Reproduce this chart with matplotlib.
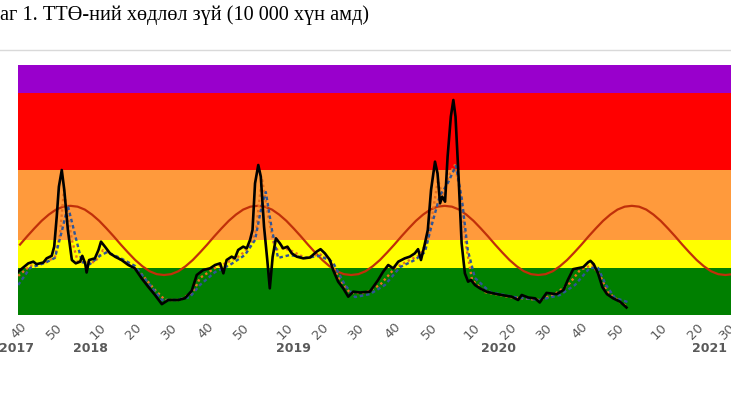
import matplotlib
matplotlib.use("Agg")
import matplotlib.pyplot as plt
from matplotlib.lines import Line2D

# --- data -------------------------------------------------------------
# weeks counted from 2017 week 40 (52 weeks per year)
# threshold bands: (bottom, top, colour)
band_edges = [0, 11.3, 18.0, 34.8, 53.3, 60]
band_colors = ['#007f00', '#ffff00', '#ff9a3c', '#ff0000', '#9900cc']

# observed ILI (black)
obs_weeks = [-0.5, 2.3, 3.7, 4.6, 6.5, 7.4, 8.8, 9.5, 10.2, 10.8, 11.6, 12.3, 13.3, 14.4,
             15.5, 16.7, 17.3, 18.1, 18.5, 19.2, 20.8, 21.8, 22.5, 23.6, 25.0, 26.4, 28.2,
             30.1, 31.9, 33.8, 35.6, 37.5, 39.4, 41.2, 44.0, 45.8, 47.7, 49.1, 50.9, 52.8,
             54.2, 55.6, 56.5, 57.4, 58.8, 59.7, 60.6, 62.0, 63.0, 63.9, 64.6, 65.3, 66.2,
             66.9, 67.8, 68.7, 69.4, 70.2, 71.1, 72.2, 73.1, 74.3, 75.5, 76.9, 78.7, 80.6,
             82.4, 83.5, 84.7, 86.1, 87.0, 88.4, 89.8, 91.2, 92.6, 94.4, 97.2, 99.5, 100.9,
             102.3, 103.7, 105.1, 106.9, 108.3, 109.7, 110.6, 111.4, 112.3, 113.3, 114.2,
             115.3, 116.0, 116.7, 117.3, 118.1, 118.8, 119.7, 120.4, 121.0, 121.8, 122.7,
             123.6, 124.5, 125.3, 126.4, 127.8, 129.6, 131.5, 133.8, 136.6, 138.4, 139.4,
             141.2, 143.1, 144.4, 146.3, 149.1, 151.0, 152.2, 153.7, 156.5, 157.9, 158.5,
             159.4, 160.6, 161.8, 163.1, 164.8, 166.7, 168.5]
obs_vals = [10.4, 12.4, 12.8, 12.2, 12.6, 13.6, 14.2, 16.4, 23.6, 30.8, 34.8, 30.0, 20.4, 13.2,
            12.4, 12.8, 14.2, 12.4, 10.2, 13.2, 13.6, 15.6, 17.6, 16.4, 14.8, 14.0, 13.2,
            12.0, 11.2, 8.8, 6.8, 4.8, 2.6, 3.6, 3.6, 4.0, 5.8, 9.6, 10.8, 11.2,
            12.0, 12.4, 10.0, 13.2, 14.0, 13.6, 15.6, 16.4, 16.0, 18.0, 20.4, 31.6, 36.0,
            33.2, 21.2, 13.2, 6.4, 14.0, 18.4, 17.2, 16.0, 16.4, 14.8, 14.0, 13.6, 13.8,
            15.2, 15.8, 14.8, 13.2, 10.8, 8.0, 6.4, 4.4, 5.6, 5.4, 5.6, 8.4, 10.4,
            12.0, 11.2, 12.8, 13.6, 14.0, 14.8, 15.8, 13.2, 16.4, 20.4, 30.0,
            36.8, 34.0, 26.8, 28.4, 27.2, 38.0, 47.6, 51.6, 47.6, 34.0, 17.2,
            10.0, 8.0, 8.4, 7.2, 6.4, 5.6, 5.2, 4.8, 4.4, 3.6, 4.8,
            4.2, 4.0, 3.0, 5.3, 5.0, 6.0, 8.4, 11.0, 11.5, 12.7, 13.0,
            12.2, 10.0, 6.7, 5.0, 4.0, 3.2, 1.8]

# orange dotted series
org_weeks = [-0.5, 2.8, 6.9, 9.7, 11.1, 12.2, 13.3, 14.4, 16.1, 18.1, 20.8, 23.1, 25.6, 29.2,
             33.3, 37.5, 40.3, 44.4, 48.1, 50.0, 54.2, 57.8, 61.1, 63.9, 65.6, 67.2, 68.9,
             70.8, 72.8, 75.0, 79.2, 83.3, 86.1, 88.9, 91.7, 95.8, 100.0, 104.2, 108.3,
             111.1, 113.3, 115.0, 116.1, 117.5, 119.2, 120.8, 122.2, 123.9, 125.6, 129.2,
             136.1, 144.4, 148.6, 152.8, 155.6, 158.9, 161.1, 163.3, 166.7, 168.9]
org_vals = [9.4, 11.8, 12.5, 13.9, 19.2, 30.0, 24.0, 18.0, 12.7, 12.7, 12.7, 15.6, 14.4, 12.7,
            10.3, 6.0, 3.6, 3.6, 5.5, 8.9, 11.3, 12.7, 14.2, 16.6, 20.4, 32.9, 24.0,
            15.6, 16.1, 15.6, 13.7, 14.6, 13.2, 8.4, 5.3, 5.3, 7.2, 11.3, 13.2,
            14.4, 18.0, 26.4, 32.4, 28.6, 33.6, 36.0, 30.0, 16.8, 8.4, 5.5,
            4.3, 3.6, 5.0, 7.7, 10.8, 12.0, 9.6, 5.5, 3.1, 1.9]

# blue dotted series
blu_weeks = [-0.5, 2.8, 6.9, 9.7, 11.7, 13.3, 15.3, 17.2, 19.4, 22.2, 24.2, 27.8, 31.9, 36.1,
             39.4, 43.1, 47.2, 50.0, 54.2, 58.3, 62.5, 65.3, 67.2, 68.3, 70.0, 71.7, 75.0,
             79.2, 83.3, 86.9, 90.3, 93.1, 97.2, 101.4, 105.6, 109.7, 112.5, 114.4, 116.7,
             118.6, 121.1, 122.8, 124.4, 126.4, 130.6, 137.5, 144.4, 150.0, 154.2, 158.3,
             160.6, 162.8, 165.3, 168.9]
blu_vals = [7.2, 11.3, 12.5, 13.7, 20.4, 26.2, 19.2, 12.7, 12.2, 14.2, 15.1, 13.7, 11.8, 7.2,
            3.6, 3.6, 4.3, 7.2, 10.3, 12.0, 14.4, 18.0, 26.4, 29.5, 20.4, 13.7, 14.4,
            13.7, 14.2, 12.7, 7.2, 4.3, 5.0, 7.2, 11.5, 13.2, 15.1, 21.6, 28.8,
            31.2, 35.8, 27.6, 15.6, 8.9, 5.5, 4.3, 3.6, 4.8, 7.2, 11.3,
            11.3, 7.2, 4.1, 3.1]

# seasonal baseline (dark red), every 2 weeks from week 0
base_weeks = list(range(0, 208, 2))
base_vals = [16.9, 18.9, 20.8, 22.6, 24.1, 25.3, 26.0, 26.2, 26.0, 25.3, 24.1, 22.6, 20.8,
             18.9, 16.9, 15.0, 13.2, 11.7, 10.5, 9.8, 9.6, 9.8, 10.5, 11.7, 13.2, 15.0,
             16.9, 18.9, 20.8, 22.6, 24.1, 25.3, 26.0, 26.2, 26.0, 25.3, 24.1, 22.6, 20.8,
             18.9, 16.9, 15.0, 13.2, 11.7, 10.5, 9.8, 9.6, 9.8, 10.5, 11.7, 13.2, 15.0,
             16.9, 18.9, 20.8, 22.6, 24.1, 25.3, 26.0, 26.2, 26.0, 25.3, 24.1, 22.6, 20.8,
             18.9, 16.9, 15.0, 13.2, 11.7, 10.5, 9.8, 9.6, 9.8, 10.5, 11.7, 13.2, 15.0,
             16.9, 18.9, 20.8, 22.6, 24.1, 25.3, 26.0, 26.2, 26.0, 25.3, 24.1, 22.6, 20.8,
             18.9, 16.9, 15.0, 13.2, 11.7, 10.5, 9.8, 9.6, 9.8, 10.5, 11.7, 13.2, 15.0]

tick_weeks = [0, 10, 22, 32, 42, 52, 62, 74, 84, 94, 104, 114, 126, 136, 146, 156, 166,
              178, 188, 197]
tick_labels = ['40', '50', '10', '20', '30', '40', '50', '10', '20', '30', '40', '50',
               '10', '20', '30', '40', '50', '10', '20', '30']
year_labels = ['2017', '2018', '2019', '2020', '2021']
year_pos = [-1.0, 19.7, 76, 133, 191.5]

title = 'аг 1. ТТӨ-ний хөдлөл зүй (10 000 хүн амд)'

# --- figure -----------------------------------------------------------
W, H = 731, 394
fig = plt.figure(figsize=(W / 100, H / 100), dpi=100)
ax = fig.add_axes([18 / W, 79 / H, 742 / W, 250 / H])

for i, c in enumerate(band_colors):
    ax.axhspan(band_edges[i], band_edges[i + 1], color=c, lw=0, zorder=0)

ax.plot(base_weeks, base_vals, color='#c0300a', lw=1.6, zorder=2)
ax.plot(org_weeks, org_vals, color='#e8701e', lw=1.7, ls=(0, (1, 1.2)), zorder=3)
ax.plot(blu_weeks, blu_vals, color='#2f5597', lw=1.7, ls=(0, (1.5, 1.2)), zorder=3)
ax.plot(obs_weeks, obs_vals, color='black', lw=1.9, zorder=4)

ax.set_xlim(-0.56, 205.6)
ax.set_ylim(0, 60)
for s in ax.spines.values():
    s.set_visible(False)
ax.set_yticks([])
ax.set_xticks(tick_weeks)
ax.set_xticklabels(tick_labels, rotation=45, ha='right', va='top',
                   rotation_mode='anchor', color='#595959', fontsize=9.5)
ax.tick_params(axis='x', length=0, pad=4)

for lab, p in zip(year_labels, year_pos):
    ax.text(p, -8.0, lab, ha='center', va='center', color='#595959',
            fontsize=9, fontweight='bold', transform=ax.transData)

# light frame line above the chart
fig.add_artist(Line2D([0, 1], [1 - 50 / H, 1 - 50 / H], color='#d9d9d9', lw=1))

fig.text(0, 1 - 15 / H, title, ha='left', va='center', fontsize=14.6,
         family='Liberation Serif')

fig.savefig('out.png', dpi=100)
